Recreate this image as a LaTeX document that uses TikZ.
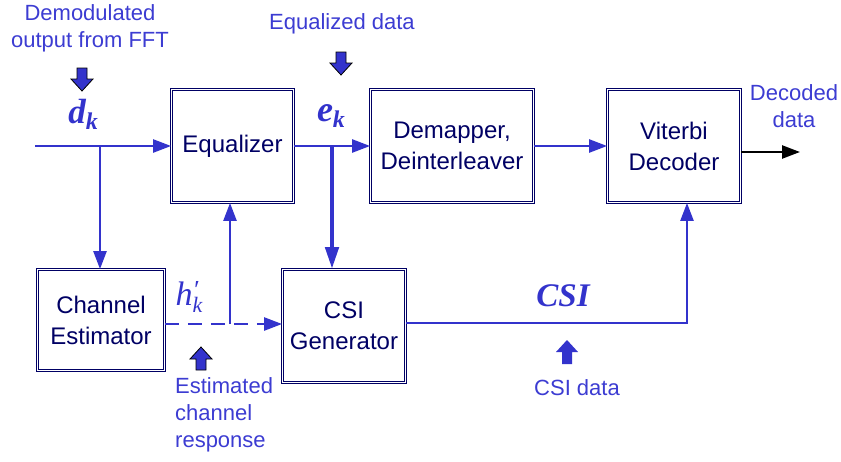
\documentclass[tikz,border=0pt]{standalone}
\usepackage{fontspec}
\setmainfont{Liberation Sans}
\newfontfamily\tms{Liberation Serif}
\usetikzlibrary{arrows.meta,calc}

\definecolor{sigblue}{RGB}{51,51,204}
\definecolor{lblblue}{RGB}{60,60,210}
\definecolor{navy}{RGB}{0,0,100}

\tikzset{
  blockbox/.style={draw=navy, double=white, double distance=1.8pt, line width=0.8pt,
    align=center, text=navy, font=\fontsize{24}{31}\selectfont, inner sep=0pt},
  sig/.style={draw=sigblue, line width=2.4pt},
  tip/.style={-{Triangle[length=18pt,width=13pt]}},
  lbl/.style={text=lblblue, font=\fontsize{22}{27}\selectfont, align=center, inner sep=0pt},
  sym/.style={text=sigblue, inner sep=0pt},
  downblk/.pic={\draw[black, line width=0.8pt, fill=sigblue]
      (-5,0) -- (5,0) -- (5,11) -- (11,11) -- (0,23) -- (-11,11) -- (-5,11) -- cycle;},
  upblk/.pic={\draw[black, line width=0.8pt, fill=sigblue]
      (-5,23) -- (5,23) -- (5,12) -- (11,12) -- (0,0) -- (-11,12) -- (-5,12) -- cycle;},
  upblkflat/.pic={\fill[sigblue]
      (-5,24) -- (5,24) -- (5,12) -- (11,12) -- (0,0) -- (-11,12) -- (-5,12) -- cycle;}
}

\begin{document}
\begin{tikzpicture}[x=1pt,y=-1pt]
\useasboundingbox (0,0) rectangle (841,461);

% processing blocks
\node[blockbox, minimum width=122pt, minimum height=113pt] (eq)  at (232.5,146) {Equalizer};
\node[blockbox, minimum width=163pt, minimum height=113pt] (dem) at (452,146) {Demapper,\\Deinterleaver};
\node[blockbox, minimum width=133pt, minimum height=113pt] (vit) at (674,146) {Viterbi\\Decoder};
\node[blockbox, minimum width=127pt, minimum height=101pt] (che) at (101,320) {Channel\\Estimator};
\node[blockbox, minimum width=123pt, minimum height=113pt] (csi) at (344,326) {CSI\\Generator};

% junction and bend points
\coordinate (in)  at (35,146);
\coordinate (dj)  at (100,146);
\coordinate (ej)  at (332,146);
\coordinate (hj)  at (230,324);
\coordinate (cc)  at (687,323);
\coordinate (out) at (800,152);

% signal paths
\draw[sig, tip] (in) -- (eq.west);
\draw[sig, tip] (dj) -- (dj |- che.north);
\draw[sig, tip] (eq.east) -- (dem.west);
\draw[draw=sigblue, line width=4.5pt, -{Triangle[length=22pt,width=13pt]}] (ej) -- (ej |- csi.north);
\draw[sig, tip] (dem.east) -- (vit.west);
\draw[line width=2.4pt, black, tip] (vit.east |- out) -- (out);
\draw[sig, tip, dash pattern=on 14pt off 9pt] (che.east |- hj) -- (csi.west |- hj);
\draw[sig, tip] (hj) -- (hj |- eq.south);
\draw[sig, tip] (csi.east |- cc) -- (cc) -- (cc |- vit.south);

% signal symbols
\node[sym] (dk) at (83,114) {\tms\bfseries\itshape\fontsize{35}{35}\selectfont d\raisebox{-6pt}{\fontsize{24}{24}\selectfont k}};
\node[sym] (ek) at (331,116) {\tms\bfseries\itshape\fontsize{36}{36}\selectfont e\raisebox{-6pt}{\fontsize{24}{24}\selectfont k}};
\node[sym] (hk) at (189,297) {\tms\itshape\fontsize{34}{34}\selectfont h\rlap{\raisebox{7pt}{\fontsize{26}{26}\selectfont ′}}\raisebox{-7pt}{\fontsize{22}{22}\selectfont k}};
\node[sym] (csil) at (563,296) {\tms\bfseries\itshape\fontsize{33}{33}\selectfont CSI};

% annotations
\node[lbl] (demod) at (90,28) {Demodulated\\output from FFT};
\node[lbl] (eqd)   at (342,24) {Equalized data};
\node[lbl] (decd)  at (794,106) {Decoded\\data};
\node[lbl, align=left, anchor=west] (est) at (175,415) {Estimated\\channel\\response};
\node[lbl] (csid)  at (577,388) {CSI data};

% pointer arrows
\pic at (82,68) {downblk};
\pic at (341,52) {downblk};
\pic at (201,347) {upblk};
\pic at (567,340) {upblkflat};
\end{tikzpicture}
\end{document}
